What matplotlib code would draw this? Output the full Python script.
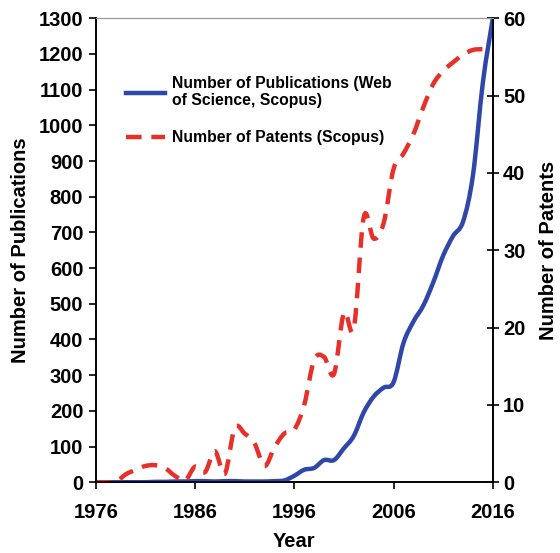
import numpy as np
import matplotlib.pyplot as plt
from matplotlib.lines import Line2D
from matplotlib.path import Path
from matplotlib.patches import PathPatch

plt.rcParams["font.family"] = ["Liberation Sans", "DejaVu Sans"]
plt.rcParams["font.weight"] = "bold"

years = list(range(1976, 2017))
publications = [0, 0, 0, 0, 0, 0, 1, 1, 2, 2,
                3, 3, 2, 3, 3, 2, 2, 2, 3, 5,
                18, 35, 40, 62, 62, 95, 130, 196, 240, 265,
                280, 390, 450, 495, 560, 635, 690, 730, 860, 1120,
                1300]
patents = [0, 0, 0, 1.0, 1.6, 2.1, 2.2, 1.8, 0.8, 0.2,
           2.0, 1.3, 4.0, 1.1, 7.0, 6.3, 5.0, 2.1, 4.5, 6.3,
           6.8, 10.0, 15.8, 16.2, 14.0, 21.9, 19.9, 34.3, 31.5, 33.5,
           40.5, 42.5, 45.0, 48.5, 51.5, 53.2, 54.3, 55.3, 55.9, 56.0,
           56.0]

blue = "#2f47a8"
red = "#e8302a"


def smooth_path(x, y):
    # Excel-style smoothed line: cubic Bezier segments through every point
    p = np.column_stack([x, y]).astype(float)
    ext = np.vstack([p[0], p, p[-1]])
    verts = [p[0]]
    codes = [Path.MOVETO]
    for i in range(1, len(ext) - 2):
        c1 = ext[i] + (ext[i + 1] - ext[i - 1]) / 6
        c2 = ext[i + 1] - (ext[i + 2] - ext[i]) / 6
        verts += [c1, c2, ext[i + 1]]
        codes += [Path.CURVE4] * 3
    return Path(verts, codes)


fig = plt.figure(figsize=(5.6, 5.53), dpi=100)
ax = fig.add_axes([0.171, 0.128, 0.709, 0.839])
ax2 = ax.twinx()

ax.add_patch(PathPatch(smooth_path(years, publications), fill=False,
                       edgecolor=blue, lw=3.2, capstyle="butt", zorder=3))
ax2.add_patch(PathPatch(smooth_path(years, patents), fill=False,
                        edgecolor=red, lw=3.2, linestyle=(0, (3.5, 2.2)), zorder=2))

ax.set_xlim(1976, 2016)
ax.set_ylim(0, 1300)
ax2.set_ylim(0, 60)
ax.set_xticks(range(1976, 2017, 10))
ax.set_yticks(range(0, 1301, 100))
ax2.set_yticks(range(0, 61, 10))

for a in (ax, ax2):
    a.spines["top"].set_color("#999999")
    a.spines["top"].set_linewidth(0.8)
    a.spines["left"].set_linewidth(1.2)
    a.spines["right"].set_linewidth(1.2)
    a.spines["bottom"].set_linewidth(1.2)
ax.tick_params(axis="y", direction="out", length=5, width=1.2, labelsize=14.5, pad=4)
ax.tick_params(axis="x", direction="out", length=5, width=1.2, labelsize=14.5, pad=10)
ax2.tick_params(axis="y", direction="inout", length=9, width=1.2, labelsize=14.5, pad=3)

ax.set_xlabel("Year", fontsize=14.5, fontweight="bold", labelpad=7)
ax.set_ylabel("Number of Publications", fontsize=14.5, fontweight="bold", labelpad=6)
ax2.set_ylabel("Number of Patents", fontsize=14.5, fontweight="bold", labelpad=10)

handles = [Line2D([], [], color=blue, lw=3.2),
           Line2D([], [], color=red, lw=3.2, dashes=(3.5, 2.2))]
labels = ["Number of Publications (Web\nof Science, Scopus)", "Number of Patents (Scopus)"]
ax.legend(handles, labels, loc="upper left", bbox_to_anchor=(0.04, 0.906),
          frameon=False, fontsize=11.3, handlelength=2.5, handletextpad=0.45,
          labelspacing=1.4)

fig.savefig("out.png", dpi=100)
